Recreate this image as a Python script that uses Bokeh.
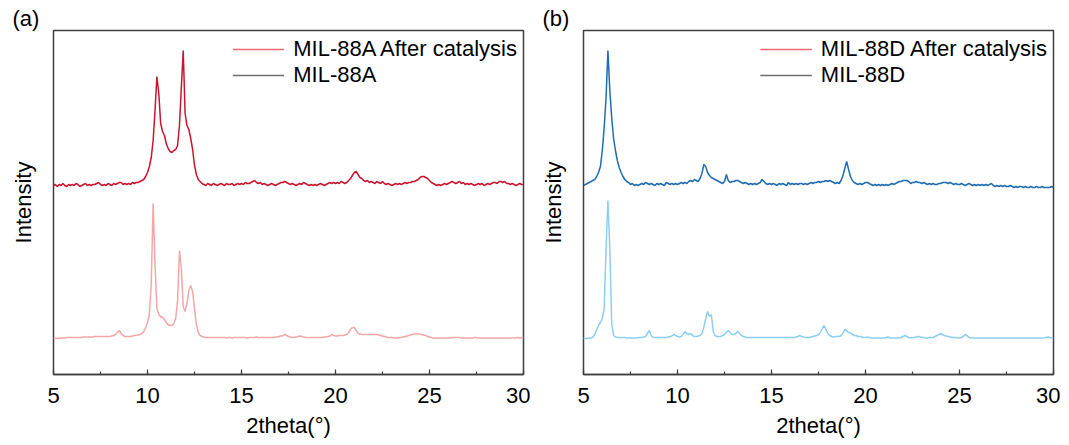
import numpy as np
from bokeh.plotting import figure
from bokeh.layouts import row
from bokeh.models import (Range1d, SingleIntervalTicker, FixedTicker, Legend, LegendItem,
                          ColumnDataSource)
from bokeh.embed import file_html
from bokeh.resources import INLINE

# ---------------- data ----------------
two_theta = np.round(np.arange(5.0, 30.05, 0.1), 1)   # 5.0 ... 30.0 sampling positions

mil88a_after = [
    0, 1, -1, 1, 0, 2, 0, -1, 1, 0,
    1, 0, 2, 1, -1, 0, 1, 2, 0, 1,
    0, 1, 1, 2, 3, 1, 0, 1, 0, 2,
    1, 0, 2, 1, 2, 3, 3, 1, 2, 1,
    2, 1, 3, 2, 3, 3, 4, 5, 6, 9,
    13, 19, 28, 45, 75, 109, 92, 62, 54, 50,
    42, 37, 34, 33, 35, 36, 40, 60, 98, 135,
    72, 60, 56, 47, 36, 20, 11, 6, 4, 2,
    1, 0, 2, 1, 0, 2, 1, 0, 1, 2,
    1, 0, 2, 1, 1, 2, 0, 1, 2, 1,
    2, 1, 3, 2, 2, 3, 4, 5, 3, 2,
    3, 1, 2, 1, 0, 1, 2, 1, 0, 1,
    2, 3, 3, 4, 3, 2, 1, 2, 1, 0,
    1, 2, 1, 3, 2, 1, 0, 1, 0, 1,
    0, 1, 2, 1, 0, 1, 2, 3, 2, 3,
    2, 3, 2, 4, 3, 2, 3, 5, 7, 10,
    13, 14, 11, 8, 7, 5, 4, 5, 3, 4,
    3, 2, 4, 3, 2, 4, 2, 1, 2, 1,
    0, 1, 2, 1, 2, 1, 2, 3, 2, 3,
    3, 4, 4, 5, 6, 8, 9, 9, 8, 7,
    5, 3, 2, 1, 0, 1, 0, 1, 2, 1,
    2, 3, 4, 3, 2, 3, 4, 2, 3, 1,
    2, 1, 2, 1, 0, 1, 2, 1, 2, 0,
    1, 2, 1, 2, 3, 3, 2, 4, 4, 3,
    4, 2, 2, 1, 2, 1, 0, 1, 2, 1,
    1,
]

mil88a = [
    0, 0, 0, 0.5, 0.5, 0.5, 0.5, 1, 1, 1,
    1, 1, 1, 1, 1, 1, 1.5, 1.5, 1.5, 1.5,
    1.5, 1.5, 2, 2, 2, 2, 2, 2, 2, 2,
    2, 2.5, 3, 4, 6, 8, 5, 3, 2, 2,
    2, 2, 2.5, 3, 3, 3.5, 4, 5, 7, 11,
    16, 24, 55, 135, 75, 30, 24, 22, 21, 19,
    16, 14, 13, 13, 15, 20, 38, 88, 70, 32,
    27, 35, 48, 53, 47, 30, 14, 6, 3, 2,
    1.5, 1, 1, 1, 1, 1, 1, 1, 1, 1,
    1, 1, 0.5, 1, 1, 0.5, 1, 1, 1, 1,
    1, 1, 1, 0.5, 1, 1, 1, 1, 1.5, 1,
    1, 1, 1, 1, 1, 1, 1, 1, 1.5, 1.5,
    2, 2.5, 3, 4, 3, 2, 1.5, 1, 1, 1.5,
    2, 2.5, 2, 1.5, 1, 1, 1, 1, 1, 1,
    1, 1, 1, 1, 1.5, 1.5, 2, 2.5, 4, 3,
    2.5, 2.5, 3, 3, 3, 3.5, 4, 6, 9, 11,
    11, 8, 5, 4.5, 4, 4, 4, 4, 4, 4,
    4, 4, 4, 3.5, 3, 2.5, 2, 1.5, 1, 1,
    1, 0.5, 0.5, 0.5, 1, 1, 1.5, 2, 2.5, 3,
    3.5, 4, 4.5, 4.5, 4.5, 4.5, 4, 3.5, 3, 2,
    1.5, 1, 0.5, 0.5, 0.5, 0.5, 0.5, 0.5, 0.5, 0.5,
    0.5, 0.5, 1, 1, 1, 1, 1, 0.5, 0.5, 0.5,
    0.5, 0.5, 0.5, 0.5, 1, 1, 0.5, 0.5, 0.5, 0.5,
    0.5, 0.5, 0.5, 0.5, 0.5, 0.5, 0.5, 0.5, 0.5, 0.5,
    0.5, 0.5, 0.5, 0.5, 0.5, 0.5, 0.5, 1, 0.5, 0.5,
    0.5,
]

mil88d_after = [
    0, 1, 2, 3, 4, 5, 6, 9, 13, 19,
    35, 58, 88, 135, 95, 68, 47, 35, 25, 18,
    13, 9, 6, 4, 3, 1, 2, 0, 1, 0,
    1, 2, 1, 3, 2, 1, 2, 1, 0, 2,
    1, 2, 1, 0, 3, 2, 1, 2, 1, 2,
    1, 2, 3, 2, 3, 2, 4, 5, 4, 6,
    5, 4, 7, 12, 21, 19, 13, 10, 8, 7,
    6, 5, 4, 3, 2, 4, 11, 5, 3, 4,
    4, 5, 5, 4, 3, 2, 3, 2, 1, 2,
    1, 2, 1, 2, 3, 6, 4, 2, 1, 2,
    1, 2, 1, 0, 2, 1, 2, 1, 0, 3,
    1, 2, 1, 2, 1, 2, 2, 1, 2, 1,
    2, 3, 2, 3, 3, 4, 3, 4, 4, 5,
    4, 5, 4, 3, 2, 3, 2, 5, 10, 17,
    24, 16, 9, 5, 3, 2, 1, 2, 1, 2,
    3, 3, 2, 1, 0, 1, 0, 1, 0, 1,
    0, 1, 0, 1, 2, 1, 2, 3, 4, 4,
    5, 5, 5, 4, 2, 3, 3, 4, 3, 3,
    2, 3, 2, 1, 2, 1, 2, 1, 1, 2,
    2, 3, 3, 3, 2, 3, 2, 1, 2, 1,
    1, 2, 1, 0, 1, 2, 1, 0, 1, 0,
    1, 0, 1, 0, 1, 0, 1, 2, 0, -1,
    0, -1, 0, -1, 0, -1, -1, 0, -1, -2,
    -1, -2, -1, -1, -2, -1, -2, -2, -1, -2,
    -2, -1, -2, -2, -1, -2, -2, -2, -2, -1,
    -2,
]

mil88d = [
    0, 0, 0, 0.5, 0.5, 1.5, 4, 9, 13, 16,
    20, 30, 90, 138, 90, 15, 3, 1.5, 1, 1,
    1, 1, 1, 0.5, 0.5, 0.5, 0.5, 0.5, 0.5, 1,
    1, 1, 1.5, 2, 5, 8, 3, 1, 1, 1,
    1, 1, 1, 1, 1, 1.5, 2, 2.5, 4, 3,
    2, 1.5, 2, 4, 7, 5, 4, 5, 3, 2,
    2, 2.5, 3, 5, 11, 20, 27, 22, 24, 7,
    3, 2, 2, 2, 3, 4, 6, 8, 6, 4,
    4, 5, 7, 5, 3, 2, 1.5, 1, 1, 1,
    1, 1, 1, 1, 1, 1, 1, 1, 1, 1,
    1, 1, 1, 1, 1, 1, 1, 1, 1, 1,
    1, 1, 1, 1.5, 2, 3, 2, 1.5, 1, 1,
    1, 1.5, 2, 2.5, 3, 4, 6, 10, 13, 9,
    5, 3, 2, 1.5, 2, 2, 2, 3, 5, 9,
    8, 6, 6, 4, 3, 3, 2, 2, 1.5, 1,
    1, 1.5, 1, 0.5, 0.5, 0.5, 0.5, 0.5, 0.5, 0.5,
    0.5, 1, 1.5, 0.5, 0.5, 0.5, 0.5, 0.5, 0.5, 1,
    2, 3, 2, 1, 0.5, 1, 1, 1.5, 2, 1.5,
    1, 1, 0.5, 0.5, 1, 1, 1, 2, 3, 4,
    5, 4, 3, 2.5, 2, 1.5, 1, 1, 1, 0.5,
    0.5, 1, 2, 4, 3, 1, 0.5, 0.5, 0.5, 0.5,
    0.5, 0.5, 0.5, 0.5, 0.5, 0.5, 0.5, 0.5, 0.5, 0.5,
    0.5, 0.5, 0.5, 0.5, 0.5, 0.5, 0.5, 0.5, 0.5, 0.5,
    0.5, 0.5, 0.5, 0.5, 0.5, 0.5, 0.5, 0.5, 0.5, 0.5,
    0.5, 0.5, 0.5, 0.5, 0.5, 0.5, 1, 1.5, 1, 0.5,
    0.5,
]

x_ticks = [5, 10, 15, 20, 25, 30]
legend_a = ["MIL-88A After catalysis", "MIL-88A"]
legend_b = ["MIL-88D After catalysis", "MIL-88D"]

# vertical stacking offsets of the two patterns in each panel
OFFSET_TOP = 189
OFFSET_BOTTOM = 36

FONT = "Liberation Sans"
FS = "22px"
FRAME_COL = "#3f3f3f"


def make_panel(tag, top_y, bottom_y, top_col, bottom_col, names):
    p = figure(width=530, height=445, output_backend="svg", toolbar_location=None,
               x_range=Range1d(5, 30), y_range=Range1d(0, 344),
               min_border_left=53, min_border_right=7,
               min_border_top=30, min_border_bottom=71)
    p.background_fill_color = "white"
    p.border_fill_color = "white"
    p.outline_line_color = FRAME_COL
    p.outline_line_width = 1.5
    p.xgrid.visible = False
    p.ygrid.visible = False

    # panel tag "(a)" / "(b)" as a left-aligned title pulled into the left margin
    p.title.text = tag
    p.title.align = "left"
    p.title.offset = -41
    p.title.standoff = 0
    p.title.text_line_height = 0.3
    p.title.text_font = FONT
    p.title.text_font_size = FS
    p.title.text_font_style = "normal"
    p.title.text_color = "black"

    # y axis: only the "Intensity" title, no ticks
    ay = p.yaxis[0]
    ay.ticker = FixedTicker(ticks=[])
    ay.major_label_text_font_size = "0px"
    ay.major_label_standoff = 0
    ay.major_tick_in = 0
    ay.major_tick_out = 0
    ay.minor_tick_in = 0
    ay.minor_tick_out = 0
    ay.axis_line_color = None
    ay.axis_label = "Intensity"
    ay.axis_label_text_font = FONT
    ay.axis_label_text_font_size = FS
    ay.axis_label_text_font_style = "normal"
    ay.axis_label_text_color = "black"
    ay.axis_label_standoff = 18

    ax = p.xaxis[0]
    ax.ticker = SingleIntervalTicker(interval=5, num_minor_ticks=2)
    ax.axis_line_color = FRAME_COL
    ax.axis_line_width = 1.5
    ax.major_tick_in = 5
    ax.major_tick_out = 0
    ax.minor_tick_in = 3
    ax.minor_tick_out = 0
    ax.major_tick_line_color = FRAME_COL
    ax.minor_tick_line_color = FRAME_COL
    ax.major_tick_line_width = 1.2
    ax.minor_tick_line_width = 1.2
    ax.major_label_text_font = FONT
    ax.major_label_text_font_size = FS
    ax.major_label_text_color = "black"
    ax.major_label_standoff = 13
    ax.axis_label = "2theta(°)"
    ax.axis_label_text_font = FONT
    ax.axis_label_text_font_size = FS
    ax.axis_label_text_font_style = "normal"
    ax.axis_label_text_color = "black"
    ax.axis_label_standoff = 7

    top = np.array(top_y, dtype=float) + OFFSET_TOP
    bot = np.array(bottom_y, dtype=float) + OFFSET_BOTTOM
    p.line(two_theta, bot, line_color=bottom_col, line_width=1.5)
    p.line(two_theta, top, line_color=top_col, line_width=1.5)

    # legend (the original uses red / grey keys in both panels); the key lines
    # lie outside the visible range so only their legend swatches show
    src = ColumnDataSource(dict(x=[-10, -9], y=[-50, -50]))
    r1 = p.line("x", "y", source=src, line_color="#ef6a6f", line_width=1.5)
    r2 = p.line("x", "y", source=src, line_color="#6e6e6e", line_width=1.5)
    leg = Legend(items=[LegendItem(label=names[0], renderers=[r1]),
                        LegendItem(label=names[1], renderers=[r2])],
                 location="top_right", border_line_alpha=0, background_fill_alpha=0,
                 label_text_font=FONT, label_text_font_size=FS, label_text_color="black",
                 glyph_width=52, glyph_height=20, label_height=20, label_standoff=9,
                 spacing=0, padding=6, margin=0)
    p.add_layout(leg)
    return p


pa = make_panel("(a)", mil88a_after, mil88a, "#c8162f", "#f4a7a6", legend_a)
pb = make_panel("(b)", mil88d_after, mil88d, "#1f6db2", "#8ccff4", legend_b)

layout = row(pa, pb)
open("out.html", "w").write(file_html(layout, INLINE))
